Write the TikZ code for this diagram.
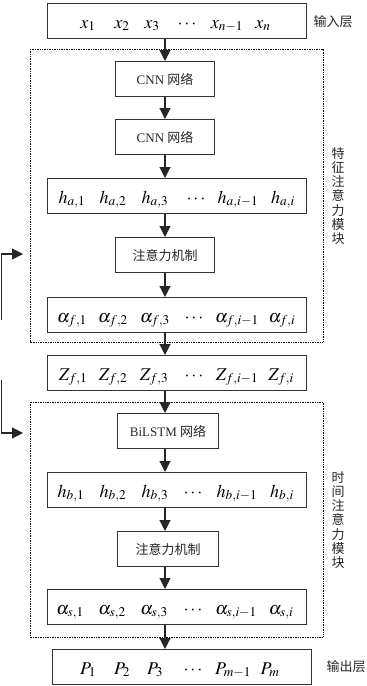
\documentclass[tikz,border=0pt]{standalone}
\usepackage{mathptmx}
\usepackage[no-math]{fontspec}
\setmainfont{Liberation Serif}
\newfontfamily\cjk{Noto Sans CJK SC}
\usetikzlibrary{arrows.meta}
\begin{document}
\begin{tikzpicture}[x=1pt,y=-1pt,
  box/.style={draw=black!80, line width=1.1pt, inner sep=0pt, anchor=north west, font=\fontsize{13}{15}\selectfont, text=black!85},
  rowbox/.style={box, minimum width=259pt, minimum height=35pt},
  smallbox/.style={box, minimum width=99pt, minimum height=35pt},
  item/.style={anchor=base, inner sep=0pt, font=\fontsize{18}{21}\selectfont},
  arr/.style={draw=black!85, line width=1.1pt, -{Triangle[width=11pt,length=11pt]}},
  dotbox/.style={draw=black, line width=0.8pt, dash pattern=on 0.8pt off 0.9pt},
  lab/.style={font=\cjk\fontsize{13}{15}\selectfont, text=black!85, inner sep=0pt},
  side/.style={lab, align=center, font=\cjk\fontsize{13}{14.2}\selectfont}]
\useasboundingbox (0,0) rectangle (367,686);
% dotted modules
\draw[dotbox] (30,49) rectangle (323,342);
\draw[dotbox] (30,402) rectangle (323,637);
% boxes
\node[rowbox] (in) at (47,3) {};
\node[smallbox] (cnn1) at (115,61) {CNN {\cjk 网络}};
\node[smallbox] (cnn2) at (115,119) {CNN {\cjk 网络}};
\node[rowbox] (ha) at (47,178) {};
\node[smallbox] (att1) at (115,237) {\cjk 注意力机制};
\node[rowbox] (af) at (47,297) {};
\node[rowbox] (zf) at (47,355) {};
\node[smallbox, minimum width=101pt] (bil) at (117,413) {BiLSTM {\cjk 网络}};
\node[rowbox] (hb) at (47,472) {};
\node[smallbox, minimum width=101pt] (att2) at (117,531) {\cjk 注意力机制};
\node[rowbox] (as) at (47,589) {};
\node[rowbox] (pp) at (52,649) {};
% row items
\foreach \xx/\t [count=\k] in {88/{x_1},122/{x_2},152/{x_3},187/{\cdots},227/{x_{n-1}},263/{x_n}}
  \node[item] (in-\k) at (\xx,28) {$\t$};
\foreach \xx/\t [count=\k] in {72/{h_{a,1}},113/{h_{a,2}},155/{h_{a,3}},196/{\cdots},238/{h_{a,i-1}},283/{h_{a,i}}}
  \node[item] (ha-\k) at (\xx,203) {$\t$};
\foreach \xx/\t [count=\k] in {72/{\alpha_{f,1}},113/{\alpha_{f,2}},155/{\alpha_{f,3}},194/{\cdots},237/{\alpha_{f,i-1}},282/{\alpha_{f,i}}}
  \node[item] (af-\k) at (\xx,322) {$\t$};
\foreach \xx/\t [count=\k] in {73/{Z_{f,1}},113/{Z_{f,2}},154/{Z_{f,3}},194/{\cdots},237/{Z_{f,i-1}},281/{Z_{f,i}}}
  \node[item] (zf-\k) at (\xx,380) {$\t$};
\foreach \xx/\t [count=\k] in {71/{h_{b,1}},113/{h_{b,2}},155/{h_{b,3}},193/{\cdots},237/{h_{b,i-1}},282/{h_{b,i}}}
  \node[item] (hb-\k) at (\xx,497) {$\t$};
\foreach \xx/\t [count=\k] in {70/{\alpha_{s,1}},112/{\alpha_{s,2}},154/{\alpha_{s,3}},193/{\cdots},236/{\alpha_{s,i-1}},281/{\alpha_{s,i}}}
  \node[item] (as-\k) at (\xx,614) {$\t$};
\foreach \xx/\t [count=\k] in {88/{P_1},122/{P_2},155/{P_3},193/{\cdots},233/{P_{m-1}},270/{P_m}}
  \node[item] (pp-\k) at (\xx,674) {$\t$};
% labels
\node[lab] (inlab) at (333,22) {输入层};
\node[lab] (outlab) at (346,667) {输出层};
\node[side] (side1) at (338,196) {特\\征\\注\\意\\力\\模\\块};
\node[side] (side2) at (338,520) {时\\间\\注\\意\\力\\模\\块};
% arrows
\coordinate (ax) at (165,0);
\draw[arr] (in.south -| ax) -- (cnn1.north -| ax);
\draw[arr] (cnn1.south -| ax) -- (cnn2.north -| ax);
\draw[arr] (cnn2.south -| ax) -- (ha.north -| ax);
\draw[arr] (ha.south -| ax) -- (att1.north -| ax);
\draw[arr] (att1.south -| ax) -- (af.north -| ax);
\draw[arr] (af.south -| ax) -- (zf.north -| ax);
\draw[arr] (zf.south -| ax) -- (bil.north -| ax);
\draw[arr] (bil.south -| ax) -- (hb.north -| ax);
\draw[arr] (hb.south -| ax) -- (att2.north -| ax);
\draw[arr] (att2.south -| ax) -- (as.north -| ax);
\draw[arr] (as.south -| ax) -- (pp.north -| ax);
% left partial arrows
\coordinate (l1a) at (1.5,320);
\coordinate (l1b) at (23,254);
\coordinate (l2a) at (1.5,380);
\coordinate (l2b) at (23,433);
\draw[arr] (l1a) |- (l1b);
\draw[arr] (l2a) |- (l2b);
\end{tikzpicture}
\end{document}
